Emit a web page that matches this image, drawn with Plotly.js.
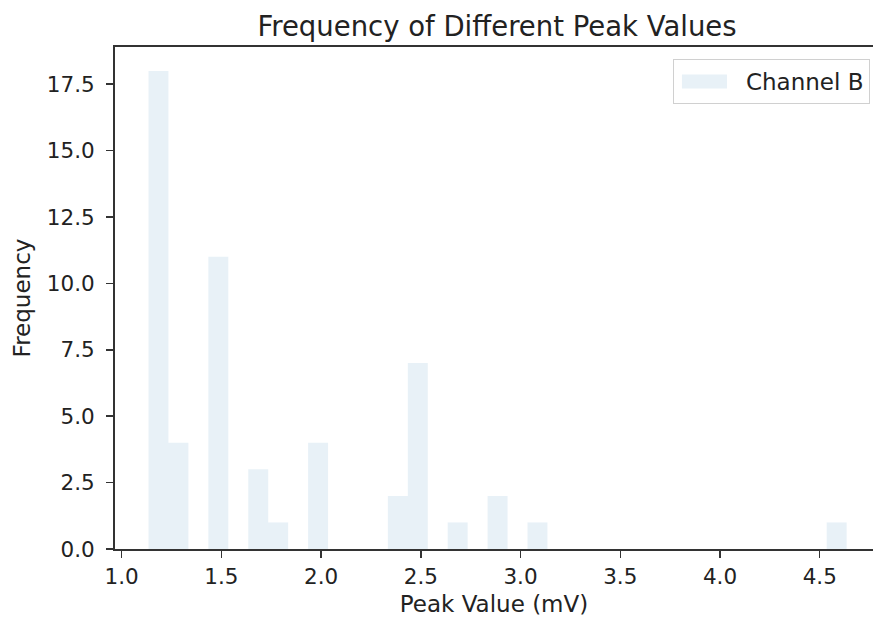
<!DOCTYPE html>
<html>
<head>
<meta charset="utf-8">
<script src="https://cdn.plot.ly/plotly-3.0.1.min.js"></script>
<style>
  html, body { margin: 0; padding: 0; background: #fff; overflow: hidden; }
  #chart { width: 873px; height: 626px; }
</style>
</head>
<body>
<div id="chart"></div>
<script>
// Histogram of peak values (Channel B): left edge of each non-empty bin and its count
const binLeft = [1.135, 1.235, 1.435, 1.635, 1.735, 1.935, 2.335, 2.435, 2.635, 2.835, 3.035, 4.535];
const counts  = [18, 4, 11, 3, 1, 4, 2, 7, 1, 2, 1, 1];
const binWidth = 0.1;

const xTicks = [1.0, 1.5, 2.0, 2.5, 3.0, 3.5, 4.0, 4.5];
const yTicks = [0, 2.5, 5, 7.5, 10, 12.5, 15, 17.5];

const FONT = "DejaVu Sans, sans-serif";
const TXT = "#222";
const AX = "#333";

const trace = {
  type: "bar",
  name: "Channel B",
  x: binLeft,
  y: counts,
  width: binLeft.map(() => binWidth),
  offset: 0,
  marker: { color: "rgba(31,119,180,0.1)", line: { width: 0 } },
  hoverinfo: "x+y"
};

const layout = {
  width: 873,
  height: 626,
  margin: { l: 115, r: 0, t: 47, b: 77 },
  paper_bgcolor: "#fff",
  plot_bgcolor: "#fff",
  font: { family: FONT, size: 21, color: TXT },
  title: {
    text: "Frequency of Different Peak Values",
    font: { family: FONT, size: 27.5, color: TXT },
    xref: "container", x: 497 / 873, xanchor: "center",
    yref: "container", y: 1 - 26 / 626, yanchor: "middle"
  },
  xaxis: {
    range: [0.967, 4.767],
    tickvals: xTicks,
    tickformat: ".1f",
    ticks: "outside", ticklen: 7, tickwidth: 1.5, tickcolor: AX,
    showline: true, linecolor: AX, linewidth: 2, mirror: true,
    showgrid: false, zeroline: false,
    tickfont: { family: FONT, size: 21.5, color: TXT },
    title: { text: "Peak Value (mV)", font: { family: FONT, size: 23, color: TXT }, standoff: 8 }
  },
  yaxis: {
    range: [0, 18.9],
    tickvals: yTicks,
    tickformat: ".1f",
    ticks: "outside", ticklen: 7, tickwidth: 1.5, tickcolor: AX,
    ticklabelstandoff: 7,
    showline: true, linecolor: AX, linewidth: 2, mirror: false,
    showgrid: false, zeroline: false,
    tickfont: { family: FONT, size: 21.5, color: TXT },
    title: { text: "Frequency", font: { family: FONT, size: 23, color: TXT }, standoff: 10 }
  },
  showlegend: true,
  legend: {
    x: 0.996, xanchor: "right",
    y: 0.976, yanchor: "top",
    bgcolor: "rgba(255,255,255,0.85)",
    bordercolor: "#d0d0d0", borderwidth: 1,
    font: { family: FONT, size: 23, color: TXT },
    itemwidth: 62
  }
};

Plotly.newPlot("chart", [trace], layout, { displayModeBar: false, staticPlot: true }).then(gd => {
  // widen the legend patch into a flat rectangle
  gd.querySelectorAll(".legendpoints path").forEach(p => {
    p.setAttribute("d", "M-28,-7H17V7H-28Z");
  });
});
</script>
</body>
</html>
